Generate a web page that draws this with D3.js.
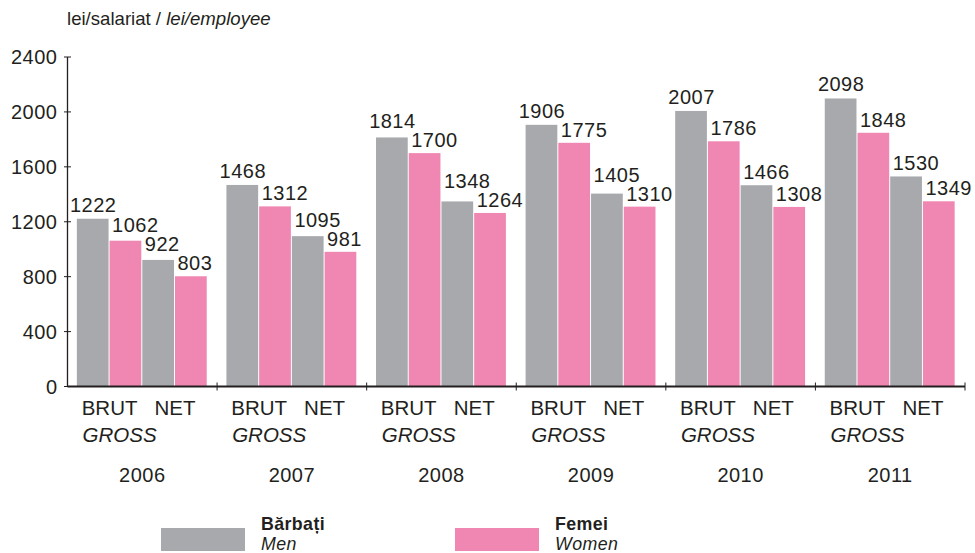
<!DOCTYPE html>
<html>
<head>
<meta charset="utf-8">
<script src="https://cdn.jsdelivr.net/npm/d3@7"></script>
<style>
  html, body { margin: 0; padding: 0; background: #fff; }
  svg { display: block; }
  text { font-family: "Liberation Sans", Arial, Helvetica, sans-serif; fill: #231f20; }
</style>
</head>
<body>
<svg id="chart" width="975" height="553"></svg>
<script>
const years = ["2006", "2007", "2008", "2009", "2010", "2011"];
const seriesKeys = ["menGross", "womenGross", "menNet", "womenNet"];
const menGross   = [1222, 1468, 1814, 1906, 2007, 2098];
const womenGross = [1062, 1312, 1700, 1775, 1786, 1848];
const menNet     = [922, 1095, 1348, 1405, 1466, 1530];
const womenNet   = [803, 981, 1264, 1310, 1308, 1349];
const yTicks = [0, 400, 800, 1200, 1600, 2000, 2400];
const unitLabel = ["lei/salariat / ", "lei/employee"];
const grossLabel = ["BRUT", "GROSS"];
const netLabel = "NET";
const legendItems = [
  { ro: "Bărbați", en: "Men", color: "#a7a9ac" },
  { ro: "Femei", en: "Women", color: "#f087b3" }
];

const colorOf = { menGross: "#a7a9ac", womenGross: "#f087b3", menNet: "#a7a9ac", womenNet: "#f087b3" };
const valuesOf = { menGross, womenGross, menNet, womenNet };

const svg = d3.select("#chart");
const plotLeft = 67.5, plotRight = 965, plotTop = 57, plotBottom = 386.5;

const y = d3.scaleLinear().domain([0, 2400]).range([plotBottom, plotTop]);
const x0 = d3.scaleBand().domain(years).range([plotLeft, plotRight]).paddingInner(0.125).paddingOuter(0.0625);
const x1 = d3.scaleBand().domain(seriesKeys).range([0, x0.bandwidth()]);

// Unit title
const t = svg.append("text").attr("x", 67).attr("y", 25).attr("font-size", 18.6);
t.append("tspan").text(unitLabel[0]);
t.append("tspan").attr("font-style", "italic").text(unitLabel[1]);

// Bars
const data = [];
years.forEach((yr, i) => seriesKeys.forEach((k, j) => data.push({ yr, k, j, v: valuesOf[k][i] })));

svg.append("g").selectAll("rect").data(data).join("rect")
  .attr("x", d => x0(d.yr) + x1(d.k))
  .attr("y", d => y(d.v))
  .attr("width", x1.bandwidth() - 1)
  .attr("height", d => y(0) - y(d.v))
  .attr("fill", d => colorOf[d.k]);

// Value labels: first bar centred, others start near bar's left edge
const labels = svg.append("g").selectAll("text").data(data).join("text")
  .attr("x", d => d.j === 0 ? x0(d.yr) + x1(d.k) + x1.bandwidth() / 2 : x0(d.yr) + x1(d.k) + 2.5)
  .attr("text-anchor", d => d.j === 0 ? "middle" : "start")
  .attr("font-size", 20)
  .attr("letter-spacing", 0.5)
  .text(d => d.v);

labels.each(function(d) {
  const w = this.getComputedTextLength();
  d.x0 = d.j === 0 ? x0(d.yr) + x1(d.k) + x1.bandwidth() / 2 - w / 2 : x0(d.yr) + x1(d.k) + 2.5;
  d.x1 = d.x0 + w;
  d.base = y(d.v) - (d.j === 0 ? 7 : 6);
});
// avoid collisions within each group: push a label up above its right neighbour
years.forEach(yr => {
  const g = data.filter(d => d.yr === yr).sort((a, b) => a.j - b.j);
  for (let j = g.length - 2; j >= 0; j--) {
    const a = g[j], b = g[j + 1];
    if (a.x1 > b.x0 - 1 && a.base > b.base - 19) a.base = b.base - 19;
  }
});
labels.attr("y", d => d.base);

// Y axis
const yAxis = svg.append("g");
yAxis.append("line").attr("x1", plotLeft).attr("x2", plotLeft).attr("y1", plotTop).attr("y2", plotBottom)
  .attr("stroke", "#231f20").attr("stroke-width", 1.3);
yAxis.selectAll(".tick").data(yTicks).join("line")
  .attr("x1", plotLeft - 3.5).attr("x2", plotLeft + 3.5)
  .attr("y1", d => y(d)).attr("y2", d => y(d))
  .attr("stroke", "#231f20").attr("stroke-width", 1);
yAxis.selectAll("text").data(yTicks).join("text")
  .attr("x", plotLeft - 10).attr("y", d => y(d) + 7)
  .attr("text-anchor", "end").attr("font-size", 20).attr("letter-spacing", 0.5)
  .text(d => d);

// X axis
const xAxis = svg.append("g");
xAxis.append("line").attr("x1", plotLeft).attr("x2", plotRight).attr("y1", plotBottom).attr("y2", plotBottom)
  .attr("stroke", "#231f20").attr("stroke-width", 2);
const step = x0.step();
xAxis.selectAll(".sep").data(years).join("line")
  .attr("x1", (d, i) => plotLeft + (i + 1) * step).attr("x2", (d, i) => plotLeft + (i + 1) * step)
  .attr("y1", plotBottom - 4).attr("y2", plotBottom + 4)
  .attr("stroke", "#231f20").attr("stroke-width", 1);

// Category labels
years.forEach(yr => {
  const gx = x0(yr);
  const grossCenter = gx + x1("womenGross");
  const netCenter = gx + x1("womenNet");
  svg.append("text").attr("x", grossCenter).attr("y", 415)
    .attr("text-anchor", "middle").attr("font-size", 20.5).text(grossLabel[0]);
  svg.append("text").attr("x", grossCenter - 27).attr("y", 442)
    .attr("font-size", 20.5).attr("font-style", "italic").text(grossLabel[1]);
  svg.append("text").attr("x", netCenter).attr("y", 415)
    .attr("text-anchor", "middle").attr("font-size", 20.5).text(netLabel);
  svg.append("text").attr("x", gx + x0.bandwidth() / 2).attr("y", 482)
    .attr("text-anchor", "middle").attr("font-size", 20).attr("letter-spacing", 0.5).text(yr);
});

// Legend
const legendX = [161, 455];
legendItems.forEach((it, i) => {
  const lx = legendX[i];
  svg.append("rect").attr("x", lx).attr("y", 528).attr("width", 84).attr("height", 23).attr("fill", it.color);
  svg.append("text").attr("x", lx + 100).attr("y", 530).attr("font-size", 17.8).attr("letter-spacing", 0.4)
    .attr("font-weight", "bold").text(it.ro);
  svg.append("text").attr("x", lx + 100).attr("y", 549.5).attr("font-size", 17.8).attr("letter-spacing", 0.4)
    .attr("font-style", "italic").text(it.en);
});
</script>
</body>
</html>
